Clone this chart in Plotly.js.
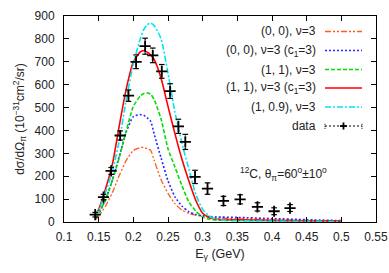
<!DOCTYPE html>
<html><head><meta charset="utf-8">
<script src="https://cdn.plot.ly/plotly-3.0.1.min.js"></script>
<style>html,body{margin:0;padding:0;background:#fff}#plot{width:389px;height:273px}</style>
</head><body><div id="plot"></div>
<script>
// Theory curves (photon energy in GeV, cross-section in 1e-31 cm^2/sr)
const curveE = [0.145,0.15,0.16,0.17,0.18,0.19,0.20,0.21,0.215,0.22,0.225,0.23,0.24,0.25,0.26,0.27,0.28,0.29,0.30,0.31,0.32,0.35,0.40,0.45,0.50];
const c00   = [10,25,70,130,205,270,312,325,326,320,313,270,185,125,80,52,38,30,25,21,18,14,10,7,5];
const c00c1 = [15,35,100,185,290,395,460,469,466,455,440,385,280,180,110,70,45,33,27,24,22,20,15,10,6];
const c11   = [18,40,95,185,285,400,505,550,561,564,558,535,450,320,240,160,88,48,22,12,8,6,5,4,3];
const c11c1 = [29,55,145,255,425,585,699,743,748,742,730,710,628,505,386,275,180,95,38,18,12,10,7,5,4];
const c109  = [25,50,130,225,360,540,690,800,840,862,869,858,800,650,480,345,232,122,55,25,12,6,4,3,2];
// Experimental data
const dataE   = [0.145,0.157,0.168,0.181,0.193,0.204,0.217,0.228,0.241,0.253,0.265,0.275,0.289,0.307,0.330,0.354,0.379,0.403,0.426];
const dataV   = [32,109,223,378,552,700,768,728,658,572,418,350,197,146,92,99,66,47,61];
const dataErr = [10,12,15,20,25,30,35,32,30,32,31,33,29,25,20,20,18,15,15];
// Labels
const names = ["(0, 0), ν=3","(0, 0), ν=3 (c<sub>1</sub>=3)","(1, 1), ν=3","(1, 1), ν=3 (c<sub>1</sub>=3)","(1, 0.9), ν=3","data"];
const xTickVals = [0.1,0.15,0.2,0.25,0.3,0.35,0.4,0.45,0.5,0.55];
const xTickText = ["0.1","0.15","0.2","0.25","0.3","0.35","0.4","0.45","0.5","0.55"];
const yTickVals = [0,100,200,300,400,500,600,700,800,900];

const styles = [
  {color:"#ff5a1e", dash:"6px,2px,2px,2px,2px,2px", width:1.3},
  {color:"#2828ff", dash:"2px,2px", width:1.6},
  {color:"#00dd00", dash:"4px,2px", width:1.6},
  {color:"#ff0000", dash:"solid", width:1.6},
  {color:"#00e5f0", dash:"6px,2px,2px,2px", width:1.6}
];
const series = [c00, c00c1, c11, c11c1, c109];
const traces = series.map((ys,i)=>({
  x: curveE, y: ys, type:"scatter", mode:"lines", name: names[i],
  line:{color:styles[i].color, dash:styles[i].dash, width:styles[i].width, shape:"spline", smoothing:0.6},
  showlegend:false, hoverinfo:"skip"
}));
// dotted error bars (gnuplot style), built from the data arrays
const ebX=[], ebY=[], capX=[], capY=[];
dataE.forEach((e,i)=>{
  ebX.push(e,e,null); ebY.push(dataV[i]-dataErr[i], dataV[i]+dataErr[i], null);
  capX.push(e,e); capY.push(dataV[i]-dataErr[i], dataV[i]+dataErr[i]);
});
traces.push({x:ebX,y:ebY,type:"scatter",mode:"lines",showlegend:false,hoverinfo:"skip",
  line:{color:"#000",width:1.2,dash:"2px,1.5px"}});
traces.push({x:capX,y:capY,type:"scatter",mode:"markers",showlegend:false,hoverinfo:"skip",
  marker:{symbol:"line-ew-open",size:4,color:"#000",line:{color:"#000",width:1.2}}});
traces.push({
  x:dataE, y:dataV, type:"scatter", mode:"markers", name:names[5], showlegend:false,
  marker:{symbol:"cross-thin-open", size:8, color:"#000", line:{color:"#000", width:1.8}}
});

// Custom gnuplot-like legend (text right-aligned, sample on the right)
const plotL=64, plotR=376, plotT=16, plotB=222;
const pw=plotR-plotL, ph=plotB-plotT;
const rowsPx=[31.5,50.5,69.5,88,107,126];
const textX=(318-plotL)/pw, s0=(325-plotL)/pw, s1=(362-plotL)/pw;
const annotations=[], shapes=[];
rowsPx.forEach((py,i)=>{
  const y=(plotB-py)/ph;
  annotations.push({xref:"paper",yref:"paper",x:textX,y:y,xanchor:"right",yanchor:"middle",
    text:names[i],showarrow:false,font:{size:12,color:"#222"}});
  if(i<5){
    shapes.push({type:"line",xref:"paper",yref:"paper",x0:s0,x1:s1,y0:y,y1:y,
      line:{color:styles[i].color,dash:styles[i].dash,width:styles[i].width}});
  } else {
    const cx=(s0+s1)/2, dx=3.5/pw, dy=3.5/ph;
    shapes.push({type:"line",xref:"paper",yref:"paper",x0:s0,x1:s1,y0:y,y1:y,line:{color:"#000",dash:"2px,2px",width:1}});
    shapes.push({type:"line",xref:"paper",yref:"paper",x0:cx-dx,x1:cx+dx,y0:y,y1:y,line:{color:"#000",width:1.8}});
    shapes.push({type:"line",xref:"paper",yref:"paper",x0:cx,x1:cx,y0:y-dy,y1:y+dy,line:{color:"#000",width:1.8}});
    shapes.push({type:"line",xref:"paper",yref:"paper",x0:s0,x1:s0,y0:y-dy*0.8,y1:y+dy*0.8,line:{color:"#000",width:1,dash:"1px,1px"}});
    shapes.push({type:"line",xref:"paper",yref:"paper",x0:s1,x1:s1,y0:y-dy*0.8,y1:y+dy*0.8,line:{color:"#000",width:1,dash:"1px,1px"}});
  }
});
annotations.push({xref:"x",yref:"y",x:0.351,y:208,xanchor:"left",yanchor:"middle",showarrow:false,
  text:"<sup>12</sup>C, θ<sub>π</sub>=60<sup>o</sup>±10<sup>o</sup>",font:{size:12,color:"#222"}});

const axisCommon={showgrid:false,zeroline:false,showline:true,linecolor:"#000",linewidth:1,mirror:"ticks",
  ticks:"inside",ticklen:5,tickcolor:"#000",tickfont:{size:12,color:"#222"}};
const layout={
  width:389,height:273,margin:{l:plotL,r:389-plotR,t:plotT,b:273-plotB},
  paper_bgcolor:"#fff",plot_bgcolor:"#fff",
  font:{family:"Liberation Sans, Arial, sans-serif",color:"#222"},
  showlegend:false,
  xaxis:Object.assign({},axisCommon,{range:[0.1,0.55],tickvals:xTickVals,ticktext:xTickText,ticklabelstandoff:4,
    title:{text:"E<sub>γ</sub> (GeV)",font:{size:12.5,color:"#222"},standoff:5}}),
  yaxis:Object.assign({},axisCommon,{range:[0,900],tickvals:yTickVals,ticklabelstandoff:6,
    title:{text:"dσ/dΩ<sub>π</sub> (10<sup>−31</sup>cm<sup>2</sup>/sr)",font:{size:12,color:"#222"},standoff:7}}),
  annotations:annotations,shapes:shapes
};
Plotly.newPlot("plot",traces,layout,{staticPlot:true,displayModeBar:false});
</script></body></html>
